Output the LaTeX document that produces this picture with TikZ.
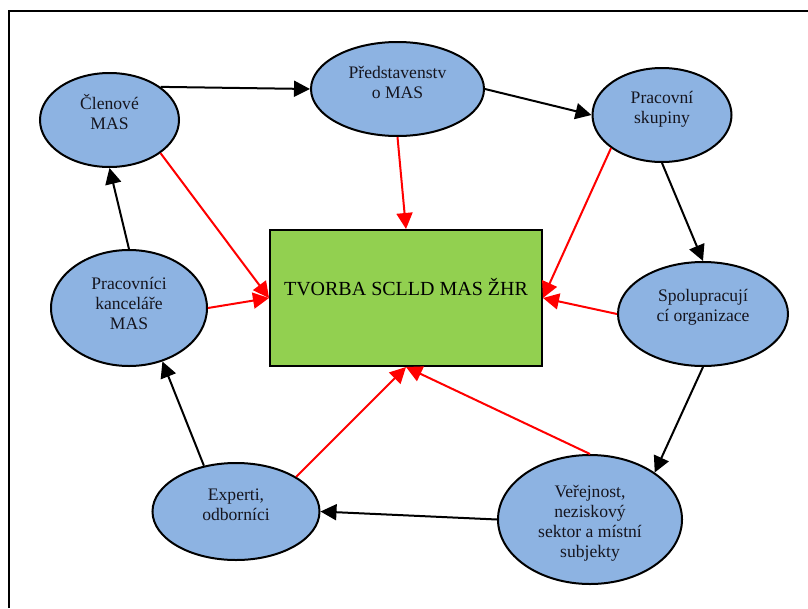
\documentclass[tikz,border=0pt]{standalone}
\usepackage{fontspec}
\setmainfont{Liberation Serif}
\usetikzlibrary{arrows.meta}
\usetikzlibrary{shapes.geometric}
\definecolor{ovalblue}{HTML}{8DB3E2}
\definecolor{boxgreen}{HTML}{92D050}
\definecolor{inktext}{HTML}{15151F}
\tikzset{
  oval/.style={ellipse, draw=black, line width=2pt, fill=ovalblue, inner sep=0pt, align=center, text=inktext, font=\fontsize{17.6}{20}\selectfont},
  flow/.style={draw=black, line width=2pt, -{Triangle[length=16pt,width=16pt]}},
  feed/.style={draw=red, line width=2pt, -{Triangle[length=16pt,width=16pt]}}
}
\begin{document}
\begin{tikzpicture}[x=1pt, y=-1pt]
\useasboundingbox (0,0) rectangle (808,608);
%%% frame %%%
\draw[line width=2pt] (9,608) -- (9,11) -- (808,11);

%% centre box
\node[draw=black, line width=2pt, fill=boxgreen, minimum width=272pt, minimum height=136pt, inner sep=0pt, font=\fontsize{20}{24}\selectfont, text depth=22pt] (tvorba) at (406,298) {TVORBA SCLLD MAS ŽHR};

%% ovals
\node[oval, minimum width=139pt, minimum height=94pt, text depth=16pt] (clenove) at (109.5,120) {Členové\\MAS};
\node[oval, minimum width=173pt, minimum height=94pt, text depth=14pt] (predstav) at (397.5,89) {Představenstv\\o MAS};
\node[oval, minimum width=139pt, minimum height=94pt, text depth=16pt] (skupiny) at (662,115) {Pracovní\\skupiny};
\node[oval, minimum width=170pt, minimum height=104pt, text depth=18pt] (spolu) at (703,314) {Spolupracují\\cí organizace};
\node[oval, minimum width=184pt, minimum height=129pt, text height=80pt] (verejnost) at (590,519.5) {Veřejnost,\\neziskový\\sektor a místní\\subjekty};
\node[oval, minimum width=167pt, minimum height=97pt, text depth=14pt] (experti) at (236,511.5) {Experti,\\odborníci};
\node[oval, minimum width=156pt, minimum height=116pt, text depth=10pt] (kancelar) at (129,308) {Pracovníci\\kanceláře\\MAS};

%% black cycle
\draw[flow] (clenove.33) -- (predstav.west);
\draw[flow] (predstav.east) -- (skupiny.west);
\draw[flow] (skupiny.south) -- (spolu.north);
\draw[flow] (spolu.south) -- (verejnost.36);
\draw[flow] (verejnost.west) -- (experti.east);
\draw[flow] (experti.125) -- (kancelar.-58);
\draw[flow] (kancelar.north) -- (clenove.south);

%% red arrows into the box
\draw[feed] (clenove.-33) -- (tvorba.west);
\draw[feed] (predstav.south) -- (tvorba.north);
\draw[feed] (skupiny.213) -- (tvorba.east);
\draw[feed] (spolu.west) -- (tvorba.east);
\draw[feed] (verejnost.north) -- (tvorba.south);
\draw[feed] (experti.30) -- (tvorba.south);
\draw[feed] (kancelar.east) -- (tvorba.west);
\end{tikzpicture}
\end{document}
